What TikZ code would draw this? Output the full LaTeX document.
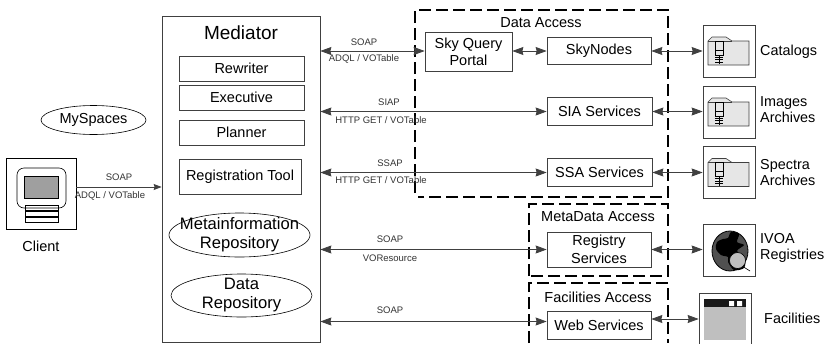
\documentclass[tikz,border=0pt]{standalone}
\usepackage{fontspec}
\setmainfont{Liberation Sans}
\usetikzlibrary{shapes.geometric,arrows.meta,positioning,calc}
\definecolor{edgegray}{HTML}{404040}
\definecolor{foldergray}{HTML}{E6E6E6}
\definecolor{panegray}{HTML}{BFBFBF}
\definecolor{globegray}{HTML}{505050}
\begin{document}
\begin{tikzpicture}[x=1pt,y=-1pt,
    box/.style={rectangle, draw=edgegray, line width=0.7pt, inner sep=0pt, align=center, font=\fontsize{14.5}{17.5}\selectfont},
    oval/.style={ellipse, draw=black, line width=0.6pt, inner sep=0pt},
    ovaltext/.style={align=center, inner sep=0pt, font=\fontsize{16.6}{19}\selectfont},
    group/.style={draw=black, line width=1.4pt, dash pattern=on 12pt off 5pt},
    grouptitle/.style={font=\fontsize{14.5}{17}\selectfont, inner sep=0pt},
    icon/.style={rectangle, draw=edgegray, line width=0.7pt, minimum width=52pt, minimum height=52pt, inner sep=0pt},
    tray/.style={rectangle, draw=black, line width=0.6pt, minimum width=33pt, minimum height=5.5pt, inner sep=0pt},
    link/.style={{Stealth[length=11pt,width=8pt,inset=1pt]}-{Stealth[length=11pt,width=8pt,inset=1pt]}, line width=0.8pt, draw=edgegray},
    linklabel/.style={font=\fontsize{9.5}{11}\selectfont, text=black!80, inner sep=0pt},
    caption/.style={font=\fontsize{14.4}{16}\selectfont, align=left, inner sep=0pt, anchor=west}
]
    \useasboundingbox (0,0) rectangle (826,343);

    % Mediator column
    \node[box, minimum width=158pt, minimum height=326pt] (mediator) at (241,179) {};
    \node[font=\fontsize{19}{21}\selectfont, inner sep=0pt] (medtitle) at (241,33) {Mediator};
    \node[box, minimum width=125pt, minimum height=25pt] (rewriter) at (241.5,68.5) {Rewriter};
    \node[box, minimum width=125pt, minimum height=25pt] (executive) at (241.5,97.5) {Executive};
    \node[box, minimum width=125pt, minimum height=25pt] (planner) at (241.5,132.5) {Planner};
    \node[box, minimum width=122pt, minimum height=35pt] (regtool) at (240,176.5) {Registration Tool};
    \node[oval, minimum width=141pt, minimum height=44pt] (metainfo) at (239.5,235) {};
    \node[ovaltext] (metatext) at (metainfo) {Metainformation\\Repository};
    \node[oval, minimum width=141pt, minimum height=43pt] (datarepo) at (241.5,295.5) {};
    \node[ovaltext] (datatext) at (datarepo) {Data\\Repository};

    % Client side
    \node[oval, minimum width=105pt, minimum height=29pt] (myspaces) at (93.5,120) {};
    \node[grouptitle] (spacestext) at (myspaces) {MySpaces};
    \node[rectangle, draw=black, line width=0.6pt, minimum width=70pt, minimum height=71pt, inner sep=0pt] (client) at (41,193.5) {};
    \node[grouptitle, below=11pt of client] (clienttext) {Client};
    \node[rectangle, draw=black, line width=0.6pt, rounded corners=7pt, minimum width=49pt, minimum height=40pt, inner sep=0pt] (screen) at (41.5,188) {};
    \node[rectangle, draw=black, fill=gray!75, minimum width=34pt, minimum height=22pt, inner sep=0pt] (pane) at (41,187) {};
    \node[tray] (tray1) at (41.5,207.75) {};
    \node[tray, below=0pt of tray1] (tray2) {};
    \node[tray, below=0pt of tray2] (tray3) {};
    \draw[-{Stealth[length=8pt,width=6pt,inset=1pt]}, line width=0.8pt, draw=edgegray] (client.east |- pane) -- (mediator.west |- pane);
    \node[linklabel] (clientsoap) at (119,177) {SOAP};
    \node[linklabel] (clientadql) at (110,196) {ADQL / VOTable};

    % Dashed groups
    \draw[group] (415,193) -- (415,10) -- (668,10) -- (668,197) -- (418,197);
    \node[grouptitle] (datatitle) at (541,23) {Data Access};
    \draw[group] (529,276) -- (529,204) -- (668,204) -- (668,276) -- cycle;
    \node[grouptitle] (metatitle) at (598,217) {MetaData Access};
    \draw[group] (529,343) -- (529,283) -- (668,283) -- (668,343);
    \node[grouptitle] (factitle) at (598,297) {Facilities Access};

    % Services
    \node[box, minimum width=87pt, minimum height=39pt] (portal) at (468.5,52) {Sky Query\\Portal};
    \node[box, minimum width=104pt, minimum height=27pt] (skynodes) at (599,51) {SkyNodes};
    \node[box, minimum width=105pt, minimum height=28pt] (sia) at (599.5,111.5) {SIA Services};
    \node[box, minimum width=105pt, minimum height=28pt] (ssa) at (599.5,172.5) {SSA Services};
    \node[box, minimum width=104pt, minimum height=35pt] (registry) at (599,249.5) {Registry\\Services};
    \node[box, minimum width=104pt, minimum height=28pt] (web) at (599,325.5) {Web Services};

    % Icon frames
    \node[icon] (catalogs) at (729,51) {};
    \node[icon] (images) at (729,112) {};
    \node[icon] (spectra) at (729,172.5) {};
    \node[icon] (ivoa) at (729,250) {};
    \node[icon] (facil) at (725,319) {};

    % Folder icons
    \foreach \folder in {catalogs,images,spectra} {
        \begin{scope}[shift={(\folder.center)}]
            \draw[fill=foldergray, draw=black!75, line width=0.6pt] (-21,-10) -- (-17,-14) -- (-3,-14) -- (3,-10) -- (20,-10) -- (20,14) -- (-21,14) -- cycle;
            \draw[draw=black!75, line width=0.6pt] (-21,-10) -- (3,-10);
            \draw[draw=black, line width=0.6pt] (-14,-10) rectangle (-6,4);
            \draw[draw=black, line width=0.6pt] (-14,-1) -- (-6,-1);
            \draw[draw=black, line width=0.6pt] (-10,4) -- (-10,13);
            \draw[draw=black, line width=0.6pt] (-14,6) -- (-6,6) (-14,8.5) -- (-6,8.5) (-14,11) -- (-6,11);
        \end{scope}
    }

    % Globe icon
    \begin{scope}[shift={(ivoa.center)}]
        \draw[fill=globegray, draw=black, line width=0.8pt] (1,1) ellipse [x radius=18, y radius=20];
        \fill[black] plot[smooth cycle] coordinates {(-12,-8) (-6,-11) (-1,-12) (2,-18) (10,-16) (8,-8) (15,-5) (8,1) (16,8) (15,18) (5,20) (-1,12) (-1,7) (-8,5) (-13,-1)};
        \draw[draw=black, line width=0.6pt] (13,16) -- (21,21);
        \draw[fill=panegray, draw=black, line width=0.6pt] (8.5,10.5) circle [radius=8];
    \end{scope}

    % Window icon
    \begin{scope}[shift={(facil.center)}]
        \fill[panegray] (-21,-20) rectangle (21,21);
        \fill[black!90] (-21,-20) rectangle (21,-12);
        \fill[white] (4,-18) rectangle (9,-13) (12,-18) rectangle (17,-13);
    \end{scope}

    % Connectors
    \draw[link] (mediator.east |- skynodes) -- (portal.west |- skynodes);
    \draw[link] (portal.east |- skynodes) -- (skynodes);
    \draw[link] (skynodes) -- (catalogs);
    \draw[link] (mediator.east |- sia) -- (sia);
    \draw[link] (sia) -- (images.west |- sia);
    \draw[link] (mediator.east |- ssa) -- (ssa);
    \draw[link] (ssa) -- (spectra);
    \draw[link] (mediator.east |- registry) -- (registry);
    \draw[link] (registry) -- (ivoa.west |- registry);
    \draw[link] (mediator.east |- 0,321.5) -- (web.west |- 0,321.5);
    \draw[link] (web.east |- facil) -- (facil);

    % Link labels
    \node[linklabel] (soapa) at (364,42) {SOAP};
    \node[linklabel] (adqla) at (364,59) {ADQL / VOTable};
    \node[linklabel] (siap) at (389,102) {SIAP};
    \node[linklabel] (httpa) at (381,120) {HTTP GET / VOTable};
    \node[linklabel] (ssap) at (390,163) {SSAP};
    \node[linklabel] (httpb) at (381,180) {HTTP GET / VOTable};
    \node[linklabel] (soapb) at (390,239) {SOAP};
    \node[linklabel] (vores) at (390,258) {VOResource};
    \node[linklabel] (soapc) at (390,310) {SOAP};

    % Captions
    \node[caption] (catcap) at (760,52) {Catalogs};
    \node[caption] (imgcap) at (760,110) {Images\\Archives};
    \node[caption] (speccap) at (760,173) {Spectra\\Archives};
    \node[caption] (ivoacap) at (760,248) {IVOA\\Registries};
    \node[caption] (faccap) at (764,318) {Facilities};
\end{tikzpicture}
\end{document}
